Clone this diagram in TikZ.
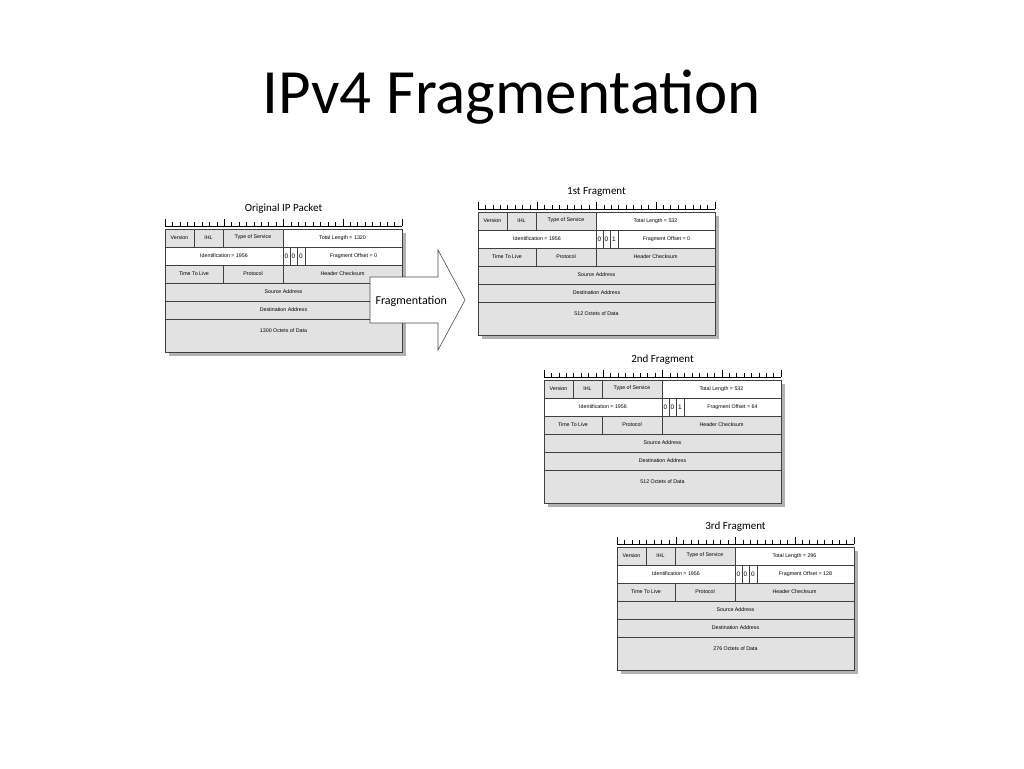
\documentclass[tikz,border=0pt]{standalone}
\usepackage{fontspec}
\setmainfont{Carlito}
\newfontfamily\cellfont{Liberation Sans}

\definecolor{cellgray}{RGB}{226,226,226}

\tikzset{
  cell/.style={draw=black!75, line width=0.6pt, fill=cellgray},
  wcell/.style={draw=black!75, line width=0.6pt, fill=white},
  celltext/.style={font=\cellfont\fontsize{5.3}{6}\selectfont, inner sep=0pt},
  headtitle/.style={font=\fontsize{11}{13}\selectfont}
}

% one IP packet drawn with its top left corner at (#1,#2)
\newcommand{\ippacket}[8]{%
  \begin{scope}[shift={(#1,#2)}]
    % shadow
    \fill[black!30] (4,4) rectangle (241,127);
    % rows
    \draw[cell] (0,0) rectangle (237,123);
    \draw[cell] (0,0) rectangle (29,18);
    \draw[cell] (29,0) rectangle (58,18);
    \draw[cell] (58,0) rectangle (118,18);
    \draw[wcell] (118,0) rectangle (237,18);
    \draw[wcell] (0,18) rectangle (118,36);
    \draw[wcell] (118,18) rectangle (125,36);
    \draw[wcell] (125,18) rectangle (132,36);
    \draw[wcell] (132,18) rectangle (140,36);
    \draw[wcell] (140,18) rectangle (237,36);
    \draw[cell] (0,36) rectangle (58,54);
    \draw[cell] (58,36) rectangle (118,54);
    \draw[cell] (118,36) rectangle (237,54);
    \draw[cell] (0,54) rectangle (237,72);
    \draw[cell] (0,72) rectangle (237,90);
    % ruler
    \draw[line width=0.5pt] (0,-3) -- (237,-3);
    \foreach \i in {0,...,32} {
      \draw[line width=0.5pt] ({\i*237/32},-3) -- ({\i*237/32},-7);
    }
    \foreach \i in {0,8,16,24,32} {
      \draw[line width=0.5pt] ({\i*237/32},-3) -- ({\i*237/32},-10);
    }
    \node[headtitle] (#8) at (118.5,-20) {#3};
    % texts
    \node[celltext] at (14.5,9) {Version};
    \node[celltext] at (43.5,9) {IHL};
    \node[celltext] at (88,8) {Type of Service};
    \node[celltext] at (177.5,9) {Total Length = #4};
    \node[celltext] at (59,27) {Identification = 1956};
    \node[celltext, font=\cellfont\fontsize{6.5}{7}\selectfont] at (121.5,27) {0};
    \node[celltext, font=\cellfont\fontsize{6.5}{7}\selectfont] at (128.5,27) {#5};
    \node[celltext, font=\cellfont\fontsize{6.5}{7}\selectfont] at (136,27) {#6};
    \node[celltext] at (188.5,27) {Fragment Offset = #7};
    \node[celltext] at (29,45) {Time To Live};
    \node[celltext] at (88,45) {Protocol};
    \node[celltext] at (177.5,45) {Header Checksum};
    \node[celltext] at (118.5,63) {Source Address};
    \node[celltext] at (118.5,81) {Destination Address};
  \end{scope}%
}

\begin{document}
\begin{tikzpicture}[x=1pt, y=-1pt]
  \useasboundingbox (0,0) rectangle (1024,768);
  \fill[white] (0,0) rectangle (1024,768);

  \node[font=\fontsize{63}{70}\selectfont] (title) at (512,97) {IPv4 Fragmentation};

  \ippacket{165}{229}{Original IP Packet}{1320}{0}{0}{0}{orig}
  \node[celltext] at (283.5,331) {1300 Octets of Data};

  % arrow
  \draw[draw=black!70, fill=white, line width=0.6pt]
    (370,277) -- (438,277) -- (438,250) -- (465,300) -- (438,350) -- (438,323) -- (370,323) -- cycle;
  \node[font=\fontsize{12}{14}\selectfont, anchor=west] (fraglabel) at (372,301) {Fragmentation};

  \ippacket{478}{212}{1st Fragment}{532}{0}{1}{0}{frag1}
  \node[celltext] at (596.5,314) {512 Octets of Data};

  \ippacket{544}{380}{2nd Fragment}{532}{0}{1}{64}{frag2}
  \node[celltext] at (662.5,482) {512 Octets of Data};

  \ippacket{617}{547}{3rd Fragment}{296}{0}{0}{128}{frag3}
  \node[celltext] at (735.5,649) {276 Octets of Data};
\end{tikzpicture}
\end{document}
